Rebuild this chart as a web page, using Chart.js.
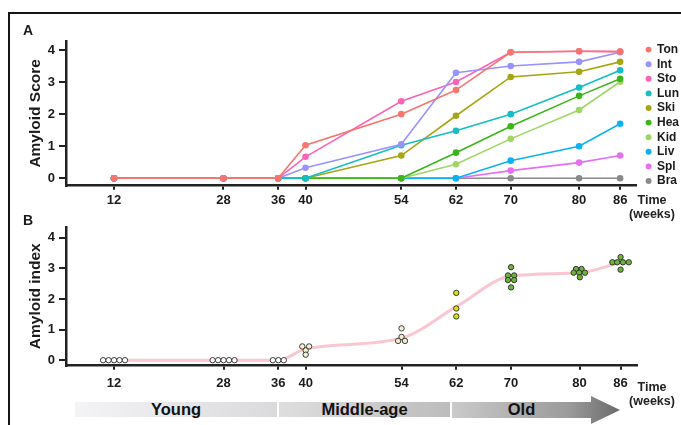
<!DOCTYPE html>
<html>
<head>
<meta charset="utf-8">
<script src="https://cdn.jsdelivr.net/npm/chart.js@4.4.1/dist/chart.umd.min.js"></script>
<style>
  html, body { margin: 0; padding: 0; background: #fff; overflow: hidden; }
  body { font-family: "Liberation Sans", Arial, sans-serif; color: #1b1b1b; }
  #wrap { position: relative; width: 681px; height: 425px; overflow: hidden; }
  canvas { position: absolute; left: 0; }
  #chartA { top: 0; }
  #chartB { top: 215px; }
  .rule { position: absolute; background: #151515; }
  .tag { position: absolute; font-weight: bold; font-size: 14px; line-height: 14px; }
  .unit { position: absolute; left: 627px; width: 50px; text-align: center;
          font-weight: bold; font-size: 12.5px; line-height: 14px; color: #222; }
  .band { position: absolute; font-weight: bold; font-size: 16.5px; line-height: 15px;
          text-align: center; color: #111; }
  #young { left: 75px; top: 402px; width: 202px; height: 15px;
           background: linear-gradient(to right, #f4f4f6, #dadadc); }
  #middle { left: 279px; top: 402px; width: 171px; height: 15px;
            background: linear-gradient(to right, #dedede, #bcbcbc); }
  #old { left: 452px; top: 396px; width: 168px; height: 28px;
         background: linear-gradient(to right, #cacaca, #9a9a9a 70%, #6a6a6a);
         clip-path: polygon(0 6px, 139px 6px, 139px 0, 100% 50%, 139px 100%, 139px 22px, 0 22px); }
  #oldTxt { left: 452px; top: 402px; width: 139px; height: 15px; }
</style>
</head>
<body>
<div id="wrap">
  <div class="rule" style="left:8px;top:12px;width:673px;height:2px"></div>
  <div class="rule" style="left:8px;top:12px;width:2px;height:413px"></div>
  <canvas id="chartA" width="681" height="215"></canvas>
  <canvas id="chartB" width="681" height="180"></canvas>
  <div class="tag" style="left:23px;top:23px">A</div>
  <div class="tag" style="left:23px;top:213px">B</div>
  <div class="unit" style="top:193px">Time<br>(weeks)</div>
  <div class="unit" style="top:379.5px">Time<br>(weeks)</div>
  <div class="band" id="young">Young</div>
  <div class="band" id="middle">Middle-age</div>
  <div class="band" id="old"></div>
  <div class="band" id="oldTxt">Old</div>
</div>
<script>
// weeks on the x axis (both panels)
const weeks = [12, 28, 36, 40, 54, 62, 70, 80, 86]
const scoreTicks = [0, 1, 2, 3, 4]

// panel A : amyloid score per tissue
const tissues = ['Ton', 'Int', 'Sto', 'Lun', 'Ski', 'Hea', 'Kid', 'Liv', 'Spl', 'Bra']
const tissueColors = ['#f6766f', '#9a93fb', '#fb63b6', '#14bec4', '#a6a513', '#3bb51a', '#9fd563', '#0db1f1', '#e56ff0', '#8a8a8a']
const ton = [0, 0, 0, 1.03, 2.0, 2.75, 3.93, 3.96, 3.95]
const int = [0, 0, 0, 0.33, 1.06, 3.29, 3.5, 3.63, 3.93]
const sto = [0, 0, 0, 0.67, 2.4, 3.0, 3.93, 3.96, 3.95]
const lun = [0, 0, 0, 0, 1.03, 1.48, 2.0, 2.83, 3.37]
const ski = [0, 0, 0, 0, 0.71, 1.95, 3.16, 3.32, 3.63]
const hea = [0, 0, 0, 0, 0, 0.8, 1.62, 2.57, 3.1]
const kid = [0, 0, 0, 0, 0, 0.44, 1.23, 2.13, 3.01]
const liv = [0, 0, 0, 0, 0, 0, 0.55, 1.0, 1.7]
const spl = [0, 0, 0, 0, 0, 0, 0.24, 0.49, 0.71]
const bra = [0, 0, 0, 0, 0, 0, 0, 0, 0]
const scores = [ton, int, sto, lun, ski, hea, kid, liv, spl, bra]

// panel B : amyloid index of each animal (x = week, spread sideways as in the plot)
const dotWeeks = [
  [10.4, 11.2, 12, 12.8, 13.6],
  [26.4, 27.2, 28, 28.8, 29.6],
  [35.2, 36, 36.8],
  [39.5, 40.5, 40, 40],
  [54, 54, 53.5, 54.5],
  [62, 62, 62],
  [70, 69.55, 70.45, 69.55, 70.45, 70],
  [79.5, 80.3, 79.15, 79.95, 80.8, 80.05],
  [86, 84.8, 85.5, 86.35, 87.2, 86]
]
const dotIndex = [
  [0, 0, 0, 0, 0],
  [0, 0, 0, 0, 0],
  [0, 0, 0],
  [0.45, 0.45, 0.32, 0.18],
  [1.04, 0.76, 0.63, 0.63],
  [2.2, 1.69, 1.43],
  [3.04, 2.77, 2.77, 2.62, 2.62, 2.38],
  [2.98, 2.98, 2.86, 2.86, 2.86, 2.71],
  [3.37, 3.2, 3.2, 3.2, 3.2, 2.96]
]
const dotColors = ['#ffffff', '#ffffff', '#ffffff', '#f3f1cd', '#f3f1cd', '#d6e21c', '#6cb33a', '#6cb33a', '#6cb33a']
const fitIndex = [0, 0, 0, 0.37, 0.72, 1.75, 2.75, 2.86, 3.2]

const FONT = '"Liberation Sans", Arial, sans-serif'
const INK = '#1b1b1b'

function yAxis(title, min, max) {
  return {
    type: 'linear', min: min, max: max,
    afterBuildTicks: s => { s.ticks = scoreTicks.map(v => ({value: v})) },
    afterFit: s => { s.width = 66 },
    ticks: {color: INK, padding: 4, font: {family: FONT, size: 13, weight: 'bold'}},
    grid: {drawOnChartArea: false, drawTicks: true, tickLength: 7, lineWidth: 2, color: '#222'},
    border: {display: true, color: '#222', width: 2.5},
    title: {display: true, text: title, color: INK, padding: {top: 26, bottom: 0},
            font: {family: FONT, size: 15.5, weight: 'bold'}}
  }
}

function xAxis(max, pad) {
  return {
    type: 'linear', min: 4.98, max: max,
    afterBuildTicks: s => { s.ticks = weeks.map(v => ({value: v})) },
    afterFit: s => { s.height = 29.3 },
    ticks: {color: INK, padding: pad, autoSkip: false, maxRotation: 0,
            font: {family: FONT, size: 13, weight: 'bold'}},
    grid: {drawOnChartArea: false, drawTicks: true, tickLength: 4, lineWidth: 2, color: '#222'},
    border: {display: true, color: '#222', width: 2.5}
  }
}

// move the legend a little to the right, off the end of the x axis
const nudgeLegend = {
  id: 'nudgeLegend',
  afterLayout(chart) {
    if (chart.legend) { chart.legend.left += 8; chart.legend.right += 8 }
  }
}

// ---- panel A
const dataA = {
  datasets: tissues.map((name, i) => ({
    label: name,
    data: weeks.map((w, j) => ({x: w, y: scores[i][j]})),
    borderColor: tissueColors[i],
    backgroundColor: tissueColors[i],
    pointBackgroundColor: tissueColors[i],
    pointBorderWidth: 0,
    pointRadius: 3.3,
    borderWidth: 1.6,
    tension: 0
  }))
}

new Chart(document.querySelector('#chartA'), {
  type: 'line',
  data: dataA,
  options: {
    responsive: false,
    animation: false,
    layout: {padding: {top: 41, right: 0, bottom: 0, left: 0}},
    scales: {x: xAxis(88.26, 2.5), y: yAxis('Amyloid Score', -0.23, 4.28)},
    plugins: {
      tooltip: {enabled: false},
      legend: {
        position: 'right', align: 'start',
        labels: {usePointStyle: true, pointStyle: 'circle', boxWidth: 4.8, boxHeight: 4.2,
                 padding: 2.6, color: INK, font: {family: FONT, size: 12, weight: 'bold'}}
      }
    }
  },
  plugins: [nudgeLegend]
})

// ---- panel B
const dataB = {
  datasets: weeks.map((w, i) => ({
    type: 'scatter',
    label: String(w),
    data: dotWeeks[i].map((x, j) => ({x: x, y: dotIndex[i][j]})),
    backgroundColor: dotColors[i],
    borderColor: '#2a2a2a',
    borderWidth: 0.9,
    pointRadius: 2.7
  })).concat([{
    type: 'line',
    label: 'fit',
    data: weeks.map((w, j) => ({x: w, y: fitIndex[j]})),
    borderColor: '#f9c6d2',
    borderWidth: 3,
    pointRadius: 0,
    cubicInterpolationMode: 'monotone'
  }])
}

new Chart(document.querySelector('#chartB'), {
  type: 'scatter',
  data: dataB,
  options: {
    responsive: false,
    animation: false,
    layout: {padding: {top: 7.7, right: 44, bottom: 0, left: 0}},
    scales: {x: xAxis(88.4, 5.8), y: yAxis('Amyloid index', -0.18, 4.36)},
    plugins: {tooltip: {enabled: false}, legend: {display: false}}
  }
})
</script>
</body>
</html>
